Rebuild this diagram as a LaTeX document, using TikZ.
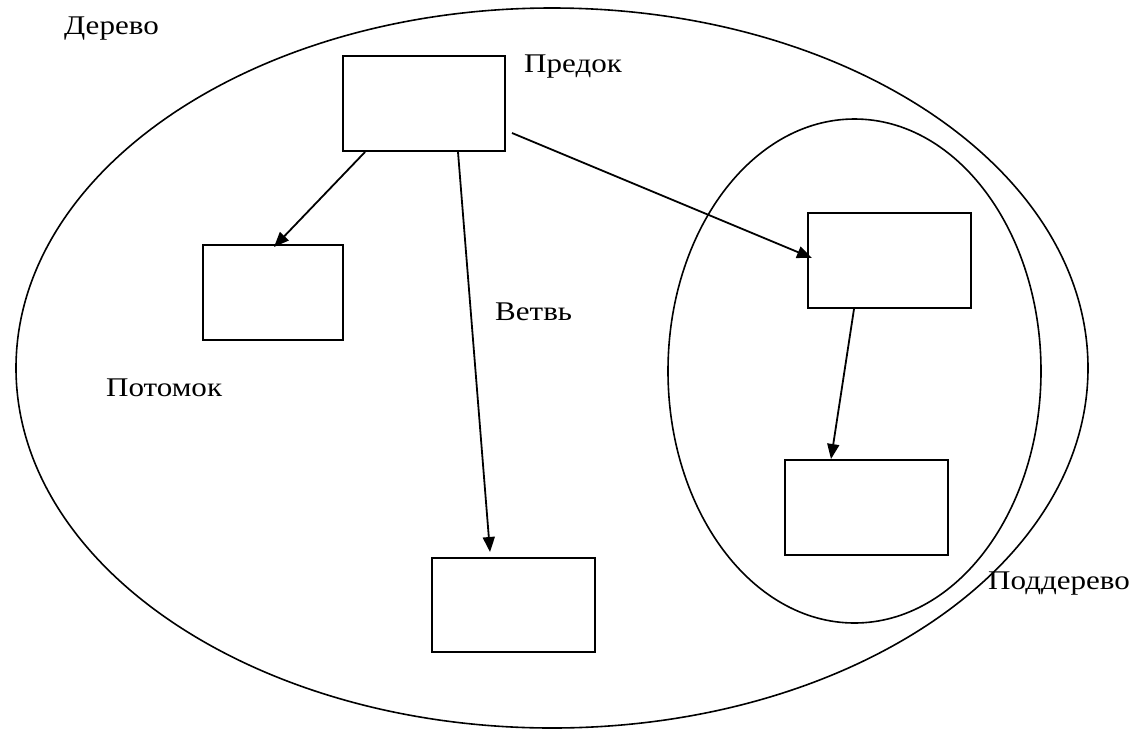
\documentclass[tikz,border=0pt]{standalone}
\usepackage{fontspec}
\setmainfont[FakeStretch=1.15]{Liberation Serif}
\usetikzlibrary{shapes.geometric,arrows.meta}
\tikzset{
  box/.style={draw, line width=2pt, rectangle, inner sep=0pt, minimum width=#1, minimum height=95pt},
  box/.default=163pt,
  oval/.style={draw, line width=1.6pt, ellipse, inner sep=0pt},
  link/.style={line width=1.8pt, -{Triangle[length=15pt,width=12pt]}},
  lbl/.style={anchor=base west, inner sep=0pt, font=\fontsize{27}{31}\selectfont}
}
\begin{document}
\begin{tikzpicture}[x=1pt,y=-1pt]
\useasboundingbox (0,0) rectangle (1133,729);
\node[oval, minimum width=1072pt, minimum height=720pt] (tree) at (552,368) {};
\node[oval, minimum width=373pt, minimum height=504pt] (sub) at (854.5,371) {};
\node[box=162pt] (p) at (424,103.5) {};
\node[box=140pt] (c1) at (273,292.5) {};
\node[box=163pt, minimum height=94pt] (c2) at (513.5,605) {};
\node[box] (s1) at (889.5,260.5) {};
\node[box] (s2) at (866.5,507.5) {};
\draw[link] ([xshift=23pt]p.south west) -- ([xshift=72pt,yshift=-3pt]c1.north west);
\draw[link] ([xshift=116pt]p.south west) -- ([xshift=59pt,yshift=5pt]c2.north west);
\draw[link] ([xshift=6pt,yshift=19pt]p.south east) -- ([xshift=5pt,yshift=2.5pt]s1.west);
\draw[link] ([xshift=47pt]s1.south west) -- ([xshift=47pt]s2.north west);
\node[lbl] (t1) at (64,34) {Дерево};
\node[lbl] (t2) at (524,72) {Предок};
\node[lbl] (t3) at (495,320) {Ветвь};
\node[lbl] (t4) at (106,396) {Потомок};
\node[lbl] (t5) at (988,589) {Поддерево};
\end{tikzpicture}
\end{document}
